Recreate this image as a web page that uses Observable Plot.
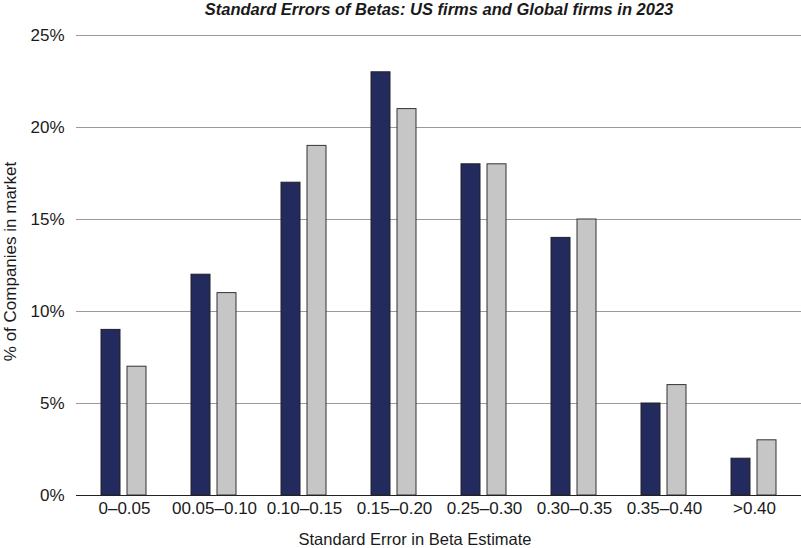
<!DOCTYPE html>
<html>
<head>
<meta charset="utf-8">
<script src="https://cdn.jsdelivr.net/npm/d3@7"></script>
<script src="https://cdn.jsdelivr.net/npm/@observablehq/plot@0.6"></script>
<style>
  html, body { margin: 0; padding: 0; background: #fff; }
  #chart svg { display: block; }
</style>
</head>
<body>
<div id="chart"></div>
<script>
const categories = ["0–0.05", "00.05–0.10", "0.10–0.15", "0.15–0.20", "0.25–0.30", "0.30–0.35", "0.35–0.40", ">0.40"];
const usFirms = [9, 12, 17, 23, 18, 14, 5, 2];
const globalFirms = [7, 11, 19, 21, 18, 15, 6, 3];
const yTicks = [0, 5, 10, 15, 20, 25];
const title = "Standard Errors of Betas: US firms and Global firms in 2023";
const xTitle = "Standard Error in Beta Estimate";
const yTitle = "% of Companies in market";

const usData = categories.map((c, i) => ({category: c, value: usFirms[i]}));
const globalData = categories.map((c, i) => ({category: c, value: globalFirms[i]}));

const font = "'Liberation Sans', Arial, Helvetica, sans-serif";

const chart = Plot.plot({
  width: 801,
  height: 548,
  marginLeft: 76,
  marginRight: 0,
  marginTop: 35,
  marginBottom: 53,
  style: {fontFamily: font, fontSize: "17px", color: "#1a1a1a", background: "#fff"},
  x: {domain: categories, padding: 0, label: null, tickSize: 0, tickPadding: 6},
  y: {domain: [0, 25], ticks: yTicks, label: null, tickSize: 0, tickPadding: 12, tickFormat: d => d + "%"},
  marks: [
    Plot.ruleY(yTicks.filter(d => d > 0), {stroke: "#9a9a9a", strokeWidth: 1.2}),
    Plot.barY(usData, {x: "category", y: "value", fill: "#232a5e", stroke: "#222", strokeWidth: 1, insetLeft: 22, insetRight: 49}),
    Plot.barY(globalData, {x: "category", y: "value", fill: "#c6c6c6", stroke: "#333", strokeWidth: 1, insetLeft: 48, insetRight: 23}),
    Plot.ruleY([0], {stroke: "#222", strokeWidth: 1.2}),
    Plot.text([title], {frameAnchor: "top", dy: -32, text: d => d, fontWeight: "bold", fontStyle: "italic", fontSize: 16.5, fill: "#1a1a1a"}),
    Plot.text([xTitle], {frameAnchor: "bottom", dx: -24, dy: 49, text: d => d, fontSize: 16.5, fill: "#1a1a1a"}),
    Plot.text([yTitle], {frameAnchor: "left", textAnchor: "middle", dx: -66, dy: -4, rotate: -90, text: d => d, fontSize: 17, fill: "#1a1a1a"})
  ]
});
document.getElementById("chart").appendChild(chart);
</script>
</body>
</html>
